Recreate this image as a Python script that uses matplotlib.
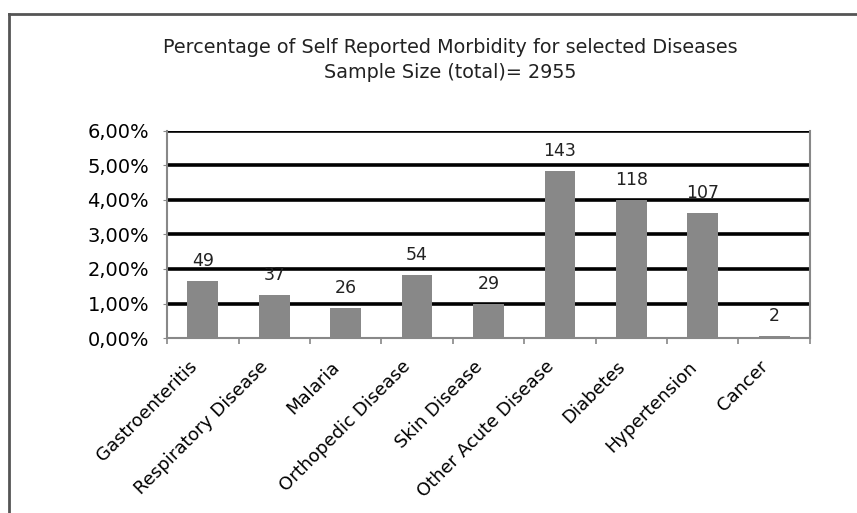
import matplotlib
matplotlib.use("Agg")
import matplotlib.pyplot as plt
import matplotlib.transforms as mtransforms
from matplotlib.lines import Line2D
from matplotlib.ticker import FuncFormatter, FixedLocator

diseases = ["Gastroenteritis", "Respiratory Disease", "Malaria", "Orthopedic Disease",
            "Skin Disease", "Other Acute Disease", "Diabetes", "Hypertension", "Cancer"]
percent = [1.66, 1.25, 0.88, 1.83, 0.98, 4.84, 3.99, 3.62, 0.07]
counts = [49, 37, 26, 54, 29, 143, 118, 107, 2]
yticks = [0, 1, 2, 3, 4, 5, 6]

fig = plt.figure(figsize=(8.57, 5.13), dpi=100)
ax = fig.add_axes([0.195, 0.341, 0.75, 0.404])

x = range(len(diseases))
bars = ax.bar(x, percent, width=0.43, color="#888888", zorder=3)

for b, c in zip(bars, counts):
    ax.annotate(str(c), (b.get_x() + b.get_width() / 2, b.get_height()),
                xytext=(0, 8), textcoords="offset points",
                ha="center", va="bottom", fontsize=12.5, color="#222222", zorder=4)

ax.set_xlim(-0.5, len(diseases) - 0.5)
ax.set_ylim(0, 6)
ax.set_yticks(yticks)
ax.yaxis.set_major_formatter(FuncFormatter(lambda v, p: f"{v:.2f}%".replace(".", ",")))
ax.grid(axis="y", color="black", linewidth=2.6, zorder=1)
ax.set_axisbelow(True)
ax.get_ygridlines()[0].set_visible(False)

ax.set_xticks(list(x))
ax.set_xticklabels(diseases, rotation=45, ha="right", rotation_mode="anchor", fontsize=13)
ax.tick_params(axis="x", which="major", length=0, pad=14)
shift = mtransforms.ScaledTranslation(-11 / 72, 0, fig.dpi_scale_trans)
for lab in ax.get_xticklabels():
    lab.set_transform(lab.get_transform() + shift)
ax.xaxis.set_minor_locator(FixedLocator([i + 0.5 for i in range(-1, len(diseases))]))
ax.tick_params(axis="x", which="minor", length=4, color="#888888", width=1.2, direction="out")
ax.tick_params(axis="y", length=3, color="#888888", labelsize=14, pad=10)

for s in ["left", "bottom", "right"]:
    ax.spines[s].set_color("#888888")
    ax.spines[s].set_linewidth(1.5)
ax.spines["top"].set_visible(False)

fig.text(0.525, 0.908, "Percentage of Self Reported Morbidity for selected Diseases",
         ha="center", va="center", fontsize=13.8, color="#222222")
fig.text(0.525, 0.859, "Sample Size (total)= 2955",
         ha="center", va="center", fontsize=13.8, color="#222222")

# outer frame (top and left edges)
fig.add_artist(Line2D([0.0105, 1.0], [0.973, 0.973], transform=fig.transFigure,
                      color="#555555", linewidth=2))
fig.add_artist(Line2D([0.0105, 0.0105], [0.0, 0.973], transform=fig.transFigure,
                      color="#555555", linewidth=2))

fig.savefig("out.png", dpi=100)
